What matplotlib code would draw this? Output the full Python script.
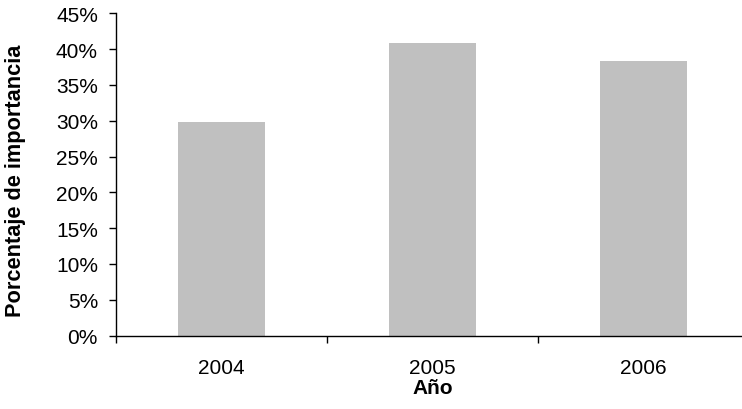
import matplotlib
matplotlib.use("Agg")
import matplotlib.pyplot as plt
from matplotlib.ticker import FixedLocator, FuncFormatter

plt.rcParams['font.family'] = ['Liberation Sans', 'DejaVu Sans']

years = ["2004", "2005", "2006"]
values = [29.8, 40.9, 38.3]
yticks = [0, 5, 10, 15, 20, 25, 30, 35, 40, 45]

fig = plt.figure(figsize=(7.42, 4.10), dpi=100)
ax = fig.add_axes([116/742, (410-336.5)/410, 633/742, (336.5-14.3)/410])

x = list(range(len(years)))
ax.bar(x, values, width=0.41, color='#C0C0C0', zorder=2)
ax.set_xlim(-0.5, len(years)-0.5)
ax.set_ylim(0, 45)

ax.set_yticks(yticks)
ax.yaxis.set_major_formatter(FuncFormatter(lambda v, p: f"{int(v)}%"))
ax.set_xticks(x)
ax.set_xticklabels(years)
ax.tick_params(axis='x', which='major', length=0, pad=16.5, labelsize=15)
ax.xaxis.set_minor_locator(FixedLocator([i - 0.5 for i in range(len(years)+1)]))
ax.tick_params(axis='x', which='minor', length=5, width=1, direction='out')
ax.tick_params(axis='y', length=5, width=1, direction='out', labelsize=15, pad=8)

for s in ['top', 'right']:
    ax.spines[s].set_visible(False)
for s in ['left', 'bottom']:
    ax.spines[s].set_linewidth(1)
    ax.spines[s].set_color('black')

ax.set_xlabel("Año", fontsize=15, fontweight='bold')
ax.xaxis.set_label_coords(432.5/742, (410-379)/410, transform=fig.transFigure)
ax.set_ylabel("Porcentaje de importancia", fontsize=15.7, fontweight='bold')
ax.yaxis.set_label_coords(26/742, (410-180.5)/410, transform=fig.transFigure)

fig.savefig("out.png", dpi=100)
